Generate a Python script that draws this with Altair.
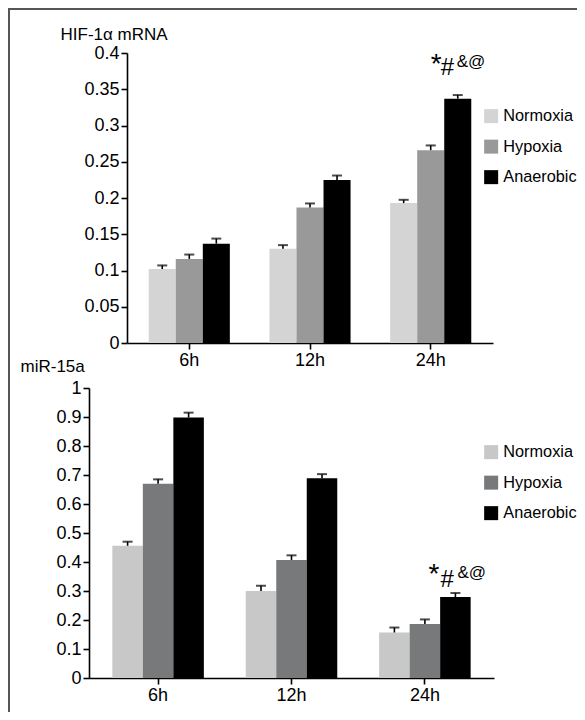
import altair as alt
import pandas as pd

# ---------------- data ----------------
times = ["6h", "12h", "24h"]
groups = ["Normoxia", "Hypoxia", "Anaerobic"]

hif_normoxia = [0.102, 0.130, 0.193]
hif_hypoxia = [0.116, 0.187, 0.266]
hif_anaerobic = [0.137, 0.225, 0.337]
hif_err_normoxia = [0.005, 0.005, 0.0045]
hif_err_hypoxia = [0.006, 0.0055, 0.0065]
hif_err_anaerobic = [0.007, 0.006, 0.005]

mir_normoxia = [0.456, 0.300, 0.157]
mir_hypoxia = [0.670, 0.407, 0.186]
mir_anaerobic = [0.898, 0.689, 0.279]
mir_err_normoxia = [0.014, 0.018, 0.017]
mir_err_hypoxia = [0.015, 0.016, 0.016]
mir_err_anaerobic = [0.017, 0.014, 0.014]

hif_colors = ["#d4d4d4", "#999999", "#000000"]
mir_colors = ["#c8c8c8", "#77797b", "#000000"]

hif_ticks = [0, 0.05, 0.1, 0.15, 0.2, 0.25, 0.3, 0.35, 0.4]
mir_ticks = [0, 0.1, 0.2, 0.3, 0.4, 0.5, 0.6, 0.7, 0.8, 0.9, 1]

sig_star = "*"
sig_hash = "#"
sig_sup = "&@"
sig_time = "24h"
sig_group = "Anaerobic"
hif_sig_y = 0.37
mir_sig_y = 0.314

FONT = "Liberation Sans"
W, H = 569, 704


def long_df(vals, errs):
    rows = []
    for g, v, e in zip(groups, vals, errs):
        for t, vv, ee in zip(times, v, e):
            rows.append({"time": t, "group": g, "value": vv, "top": vv + ee})
    return pd.DataFrame(rows)


hif_df = long_df([hif_normoxia, hif_hypoxia, hif_anaerobic],
                 [hif_err_normoxia, hif_err_hypoxia, hif_err_anaerobic])
mir_df = long_df([mir_normoxia, mir_hypoxia, mir_anaerobic],
                 [mir_err_normoxia, mir_err_hypoxia, mir_err_anaerobic])


def panel(df, colors, ydom, yvals, yrange, xrange, pi, po, x_off, y_off,
          title, title_x, title_y, legend_y, sig_y, sig_dx, sig_dy):
    x = alt.X("time:N", sort=times,
              scale=alt.Scale(range=xrange, paddingInner=pi, paddingOuter=po),
              axis=alt.Axis(orient="bottom", offset=x_off, title=None,
                            labelAngle=0, labelPadding=2))
    xo = alt.XOffset("group:N", sort=groups,
                     scale=alt.Scale(domain=groups, paddingInner=0, paddingOuter=0))
    y = alt.Y("value:Q",
              scale=alt.Scale(domain=ydom, range=yrange, nice=False, zero=True),
              axis=alt.Axis(orient="left", offset=y_off, values=yvals,
                            format=".2~f", title=title, titleAngle=0,
                            titleX=title_x, titleY=title_y, titleAlign="left",
                            titleBaseline="middle", labelPadding=2))
    bars = alt.Chart(df).mark_bar().encode(
        x=x, xOffset=xo, y=y,
        color=alt.Color("group:N", sort=groups,
                        scale=alt.Scale(domain=groups, range=colors),
                        legend=alt.Legend(orient="none", legendX=475,
                                          legendY=legend_y, title=None,
                                          symbolType="square", symbolSize=196,
                                          symbolStrokeWidth=0, labelFontSize=16.3,
                                          labelFont=FONT, labelColor="black",
                                          rowPadding=13.5, padding=0,
                                          labelOffset=4)))
    rules = alt.Chart(df).mark_rule(color="black", strokeWidth=1.6).encode(
        x=alt.X("time:N", sort=times), xOffset=alt.XOffset("group:N", sort=groups),
        y=alt.Y("value:Q"), y2="top:Q")
    caps = alt.Chart(df).mark_tick(color="black", thickness=2, size=10,
                                   orient="horizontal").encode(
        x=alt.X("time:N", sort=times), xOffset=alt.XOffset("group:N", sort=groups),
        y=alt.Y("top:Q"))
    sig = pd.DataFrame({"time": [sig_time], "group": [sig_group], "y": [sig_y],
                        "s": [sig_star], "h": [sig_hash], "b": [sig_sup]})
    layers = [bars, rules, caps]
    for field, size, dx, dy in [("s", 28, sig_dx[0], sig_dy[0]),
                                ("h", 24, sig_dx[1], sig_dy[1]),
                                ("b", 17, sig_dx[2], sig_dy[2])]:
        layers.append(alt.Chart(sig).mark_text(
            align="left", baseline="alphabetic", fontSize=size, font=FONT,
            color="black", dx=dx, dy=dy).encode(
            x=alt.X("time:N", sort=times),
            xOffset=alt.XOffset("group:N", sort=groups),
            y=alt.Y("y:Q"), text=f"{field}:N"))
    return alt.layer(*layers)


top = panel(hif_df, hif_colors, [0, 0.4], hif_ticks, [335, 45], [119, 485],
            0.328, 0.18, -369, -119, "HIF-1α mRNA", -67, 26, 100, hif_sig_y,
            (-27, -17, -1), (-2, 0, -8))
bottom = panel(mir_df, mir_colors, [0, 1], mir_ticks, [670, 380], [81, 486],
               0.314, 0.175, -34, -81, "miR-15a", -69, 358, 436, mir_sig_y,
               (-27, -15, 2), (-4, 0, -9))

frame_df = pd.DataFrame({"d": [0]})
frame_left = alt.Chart(frame_df).mark_rule(color="#555555", strokeWidth=2).encode(
    x=alt.value(1), y=alt.value(0), y2=alt.value(H))
frame_top = alt.Chart(frame_df).mark_rule(color="#555555", strokeWidth=2).encode(
    x=alt.value(0), x2=alt.value(W), y=alt.value(1))

chart = alt.layer(top, bottom, frame_left, frame_top).resolve_scale(
    x="independent", y="independent", xOffset="independent", color="independent"
).properties(
    width=W, height=H, padding=0,
    autosize=alt.AutoSizeParams(type="none")
).configure_view(stroke=None).configure_axis(
    grid=False, domainColor="black", domainWidth=1.6, tickColor="black",
    tickWidth=1.6, tickSize=6, labelColor="black", labelFontSize=18,
    labelFont=FONT, titleFont=FONT, titleFontSize=17, titleFontWeight="normal",
    titleColor="black"
)

chart.save("out.html", embed_options={"renderer": "svg", "actions": False})
